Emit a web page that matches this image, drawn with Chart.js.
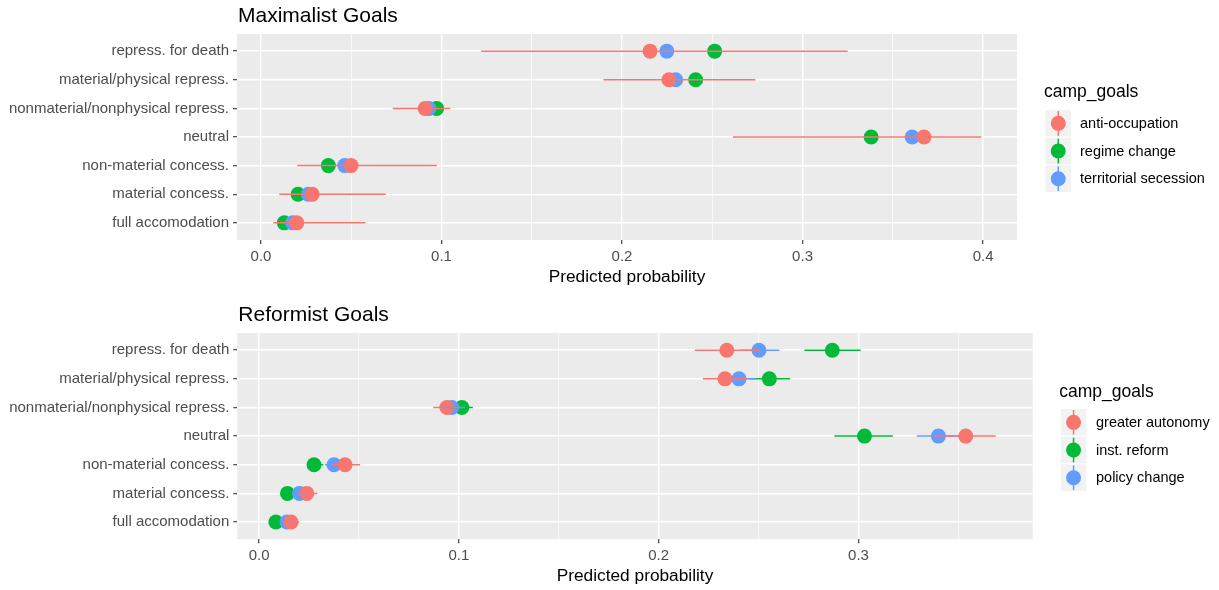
<!DOCTYPE html>
<html>
<head>
<meta charset="utf-8">
<title>Predicted probability by campaign goals</title>
<script src="https://cdn.jsdelivr.net/npm/chart.js@4/dist/chart.umd.min.js"></script>
<style>
  html, body { margin: 0; padding: 0; background: #ffffff; }
  #wrap { position: relative; width: 1219px; height: 590px; overflow: hidden; }
  .panel { position: absolute; left: 0; width: 1219px; height: 295px; }
</style>
</head>
<body>
<div id="wrap">
  <div class="panel" style="top:0px"><canvas id="maxChart"></canvas></div>
  <div class="panel" style="top:295px"><canvas id="refChart"></canvas></div>
</div>
<script>
// ---- data ---------------------------------------------------------------
const categories = [
  'repress. for death',
  'material/physical repress.',
  'nonmaterial/nonphysical repress.',
  'neutral',
  'non-material concess.',
  'material concess.',
  'full accomodation'
];

const groupColors = ['#F8766D', '#00BA38', '#619CFF'];

// Maximalist goals
const maxTitle = 'Maximalist Goals';
const maxGroups = ['anti-occupation', 'regime change', 'territorial secession'];
const maxAntiOcc      = [0.2155, 0.2260, 0.0909, 0.3673, 0.0499, 0.0284, 0.0198];
const maxAntiOccLow   = [0.1220, 0.1897, 0.0730, 0.2615, 0.0201, 0.0101, 0.0068];
const maxAntiOccHigh  = [0.3250, 0.2739, 0.1049, 0.3990, 0.0975, 0.0691, 0.0578];
const maxRegime       = [0.2513, 0.2408, 0.0973, 0.3380, 0.0373, 0.0205, 0.0129];
const maxRegimeLow    = [0.2490, 0.2385, 0.0955, 0.3355, 0.0355, 0.0190, 0.0115];
const maxRegimeHigh   = [0.2535, 0.2430, 0.0990, 0.3405, 0.0390, 0.0220, 0.0143];
const maxSecession     = [0.2248, 0.2297, 0.0930, 0.3607, 0.0464, 0.0262, 0.0175];
const maxSecessionLow  = [0.2225, 0.2275, 0.0912, 0.3580, 0.0445, 0.0247, 0.0160];
const maxSecessionHigh = [0.2270, 0.2320, 0.0948, 0.3632, 0.0482, 0.0277, 0.0190];
const maxXTicks = [0, 0.1, 0.2, 0.3, 0.4];
const maxXGrid  = [0, 0.05, 0.1, 0.15, 0.2, 0.25, 0.3, 0.35, 0.4];

// Reformist goals
const refTitle = 'Reformist Goals';
const refGroups = ['greater autonomy', 'inst. reform', 'policy change'];
const refAutonomy      = [0.2341, 0.2332, 0.0940, 0.3537, 0.0430, 0.0239, 0.0160];
const refAutonomyLow   = [0.2181, 0.2221, 0.0872, 0.3374, 0.0364, 0.0190, 0.0120];
const refAutonomyHigh  = [0.2507, 0.2445, 0.1005, 0.3687, 0.0505, 0.0292, 0.0202];
const refInstReform     = [0.2869, 0.2554, 0.1015, 0.3030, 0.0275, 0.0142, 0.0084];
const refInstReformLow  = [0.2729, 0.2455, 0.0960, 0.2880, 0.0245, 0.0112, 0.0060];
const refInstReformHigh = [0.3011, 0.2658, 0.1070, 0.3172, 0.0322, 0.0175, 0.0110];
const refPolicy      = [0.2502, 0.2402, 0.0965, 0.3400, 0.0375, 0.0202, 0.0139];
const refPolicyLow   = [0.2405, 0.2310, 0.0900, 0.3292, 0.0330, 0.0165, 0.0105];
const refPolicyHigh  = [0.2604, 0.2486, 0.1030, 0.3510, 0.0410, 0.0240, 0.0175];
const refXTicks = [0, 0.1, 0.2, 0.3];
const refXGrid  = [0, 0.05, 0.1, 0.15, 0.2, 0.25, 0.3, 0.35];

const xAxisTitle = 'Predicted probability';
const legendTitle = 'camp_goals';

// ---- drawing helpers ----------------------------------------------------
const FONT = '"Liberation Sans", Arial, Helvetica, sans-serif';

// grey panel behind the grid
const panelBackground = {
  id: 'panelBackground',
  beforeDraw(chart) {
    const { ctx, chartArea: a } = chart;
    ctx.save();
    ctx.fillStyle = '#EBEBEB';
    ctx.fillRect(a.left, a.top, a.right - a.left, a.bottom - a.top);
    ctx.restore();
  }
};

// horizontal interval lines for every point, drawn on top of the dots
const intervalLines = {
  id: 'intervalLines',
  afterDatasetsDraw(chart) {
    const { ctx, chartArea: a, scales: { x, y } } = chart;
    ctx.save();
    ctx.beginPath();
    ctx.rect(a.left, a.top, a.right - a.left, a.bottom - a.top);
    ctx.clip();
    ctx.lineWidth = 1.5;
    const metas = chart.getSortedVisibleDatasetMetas().slice().reverse();
    metas.forEach(meta => {
      const ds = chart.data.datasets[meta.index];
      ctx.strokeStyle = ds.backgroundColor;
      ds.data.forEach((pt, i) => {
        const py = y.getPixelForValue(pt.y);
        ctx.beginPath();
        ctx.moveTo(x.getPixelForValue(ds.low[i]), py);
        ctx.lineTo(x.getPixelForValue(ds.high[i]), py);
        ctx.stroke();
      });
    });
    ctx.restore();
  }
};

// panel title, x-axis title and the camp_goals legend
const panelText = {
  id: 'panelText',
  afterDraw(chart, args, opts) {
    const { ctx, chartArea: a } = chart;
    ctx.save();
    ctx.fillStyle = '#000000';
    ctx.textBaseline = 'alphabetic';
    ctx.textAlign = 'left';
    ctx.font = '21px ' + FONT;
    ctx.fillText(opts.title, a.left + 1, a.top - 12);

    ctx.textAlign = 'center';
    ctx.font = '17.3px ' + FONT;
    ctx.fillText(opts.axisTitle, (a.left + a.right) / 2, a.bottom + 41.5);

    const lg = opts.legend;
    ctx.textAlign = 'left';
    ctx.font = '17.5px ' + FONT;
    ctx.fillText(opts.legendTitle, lg.x, lg.titleY);
    const kw = 26.5, kh = 27.7;
    opts.groups.forEach((g, k) => {
      const top = lg.keyTop + k * kh;
      ctx.fillStyle = '#F2F2F2';
      ctx.fillRect(lg.x + 1, top, kw, kh);
      ctx.strokeStyle = '#FFFFFF';
      ctx.lineWidth = 1;
      ctx.strokeRect(lg.x + 1, top, kw, kh);
      const cx = lg.x + 1 + kw / 2, cy = top + kh / 2;
      ctx.strokeStyle = opts.colors[k];
      ctx.lineWidth = 1.5;
      ctx.beginPath();
      ctx.moveTo(cx, top + 1.5);
      ctx.lineTo(cx, top + kh - 1.5);
      ctx.stroke();
      ctx.fillStyle = opts.colors[k];
      ctx.beginPath();
      ctx.arc(cx, cy, 7.5, 0, Math.PI * 2);
      ctx.fill();
      ctx.fillStyle = '#000000';
      ctx.font = '14.5px ' + FONT;
      ctx.textBaseline = 'middle';
      ctx.fillText(g, lg.labelX, cy + 0.5);
      ctx.textBaseline = 'alphabetic';
      ctx.font = '17.5px ' + FONT;
    });
    ctx.restore();
  }
};

function buildPanel(canvasId, p) {
  const datasets = p.series.map((s, k) => ({
    label: p.groups[k],
    data: s.values.map((v, i) => ({ x: v, y: i })),
    low: s.low,
    high: s.high,
    backgroundColor: p.colors[k],
    borderWidth: 0,
    pointRadius: 7.5,
    pointHoverRadius: 7.5,
    order: s.drawOrder
  }));

  return new Chart(document.getElementById(canvasId), {
    type: 'scatter',
    data: { datasets },
    plugins: [panelBackground, intervalLines, panelText],
    options: {
      responsive: true,
      maintainAspectRatio: false,
      animation: false,
      events: [],
      layout: { padding: { left: 0, right: p.padRight, top: p.padTop, bottom: 0 } },
      plugins: {
        legend: { display: false },
        tooltip: { enabled: false },
        panelText: {
          title: p.title,
          axisTitle: xAxisTitle,
          legendTitle: legendTitle,
          groups: p.groups,
          colors: p.colors,
          legend: p.legend
        }
      },
      scales: {
        x: {
          type: 'linear',
          min: p.xMin,
          max: p.xMax,
          afterBuildTicks(scale) {
            scale.ticks = p.xGrid.map(v => ({ value: v }));
          },
          afterFit(scale) { scale.height = p.xAxisHeight; },
          border: { display: false },
          grid: {
            color: '#FFFFFF',
            lineWidth: c => (p.xTicks.some(t => Math.abs(t - c.tick.value) < 1e-9) ? 1.4 : 0.7),
            tickColor: c => (p.xTicks.some(t => Math.abs(t - c.tick.value) < 1e-9) ? '#333333' : 'rgba(0,0,0,0)'),
            tickLength: 4,
            tickWidth: 1.1
          },
          ticks: {
            autoSkip: false,
            maxRotation: 0,
            padding: 4,
            color: '#4D4D4D',
            font: { family: FONT, size: 15 },
            callback: v => (p.xTicks.some(t => Math.abs(t - v) < 1e-9) ? Number(v).toFixed(1) : '')
          }
        },
        y: {
          type: 'linear',
          reverse: true,
          min: -0.6,
          max: categories.length - 0.4,
          afterBuildTicks(scale) {
            scale.ticks = categories.map((c, i) => ({ value: i }));
          },
          afterFit(scale) { scale.width = p.yAxisWidth; },
          border: { display: false },
          grid: {
            color: '#FFFFFF',
            lineWidth: 1.4,
            tickColor: '#333333',
            tickLength: 4,
            tickWidth: 1.1
          },
          ticks: {
            autoSkip: false,
            padding: 4,
            color: '#4D4D4D',
            font: { family: FONT, size: 15 },
            callback: v => categories[v]
          }
        }
      }
    }
  });
}

buildPanel('maxChart', {
  title: maxTitle,
  groups: maxGroups,
  colors: groupColors,
  series: [
    { values: maxAntiOcc, low: maxAntiOccLow, high: maxAntiOccHigh, drawOrder: 0 },
    { values: maxRegime, low: maxRegimeLow, high: maxRegimeHigh, drawOrder: 2 },
    { values: maxSecession, low: maxSecessionLow, high: maxSecessionHigh, drawOrder: 1 }
  ],
  xMin: -0.0133, xMax: 0.4188,
  xTicks: maxXTicks, xGrid: maxXGrid,
  padTop: 34, padRight: 202,
  yAxisWidth: 237, xAxisHeight: 55,
  legend: { x: 1044, titleY: 97, keyTop: 109.5, labelX: 1080 }
});

buildPanel('refChart', {
  title: refTitle,
  groups: refGroups,
  colors: groupColors,
  series: [
    { values: refAutonomy, low: refAutonomyLow, high: refAutonomyHigh, drawOrder: 0 },
    { values: refInstReform, low: refInstReformLow, high: refInstReformHigh, drawOrder: 2 },
    { values: refPolicy, low: refPolicyLow, high: refPolicyHigh, drawOrder: 1 }
  ],
  xMin: -0.0109, xMax: 0.3872,
  xTicks: refXTicks, xGrid: refXGrid,
  padTop: 38, padRight: 186.3,
  yAxisWidth: 237.3, xAxisHeight: 50.8,
  legend: { x: 1059.3, titleY: 101.7, keyTop: 113.5, labelX: 1096 }
});
</script>
</body>
</html>
